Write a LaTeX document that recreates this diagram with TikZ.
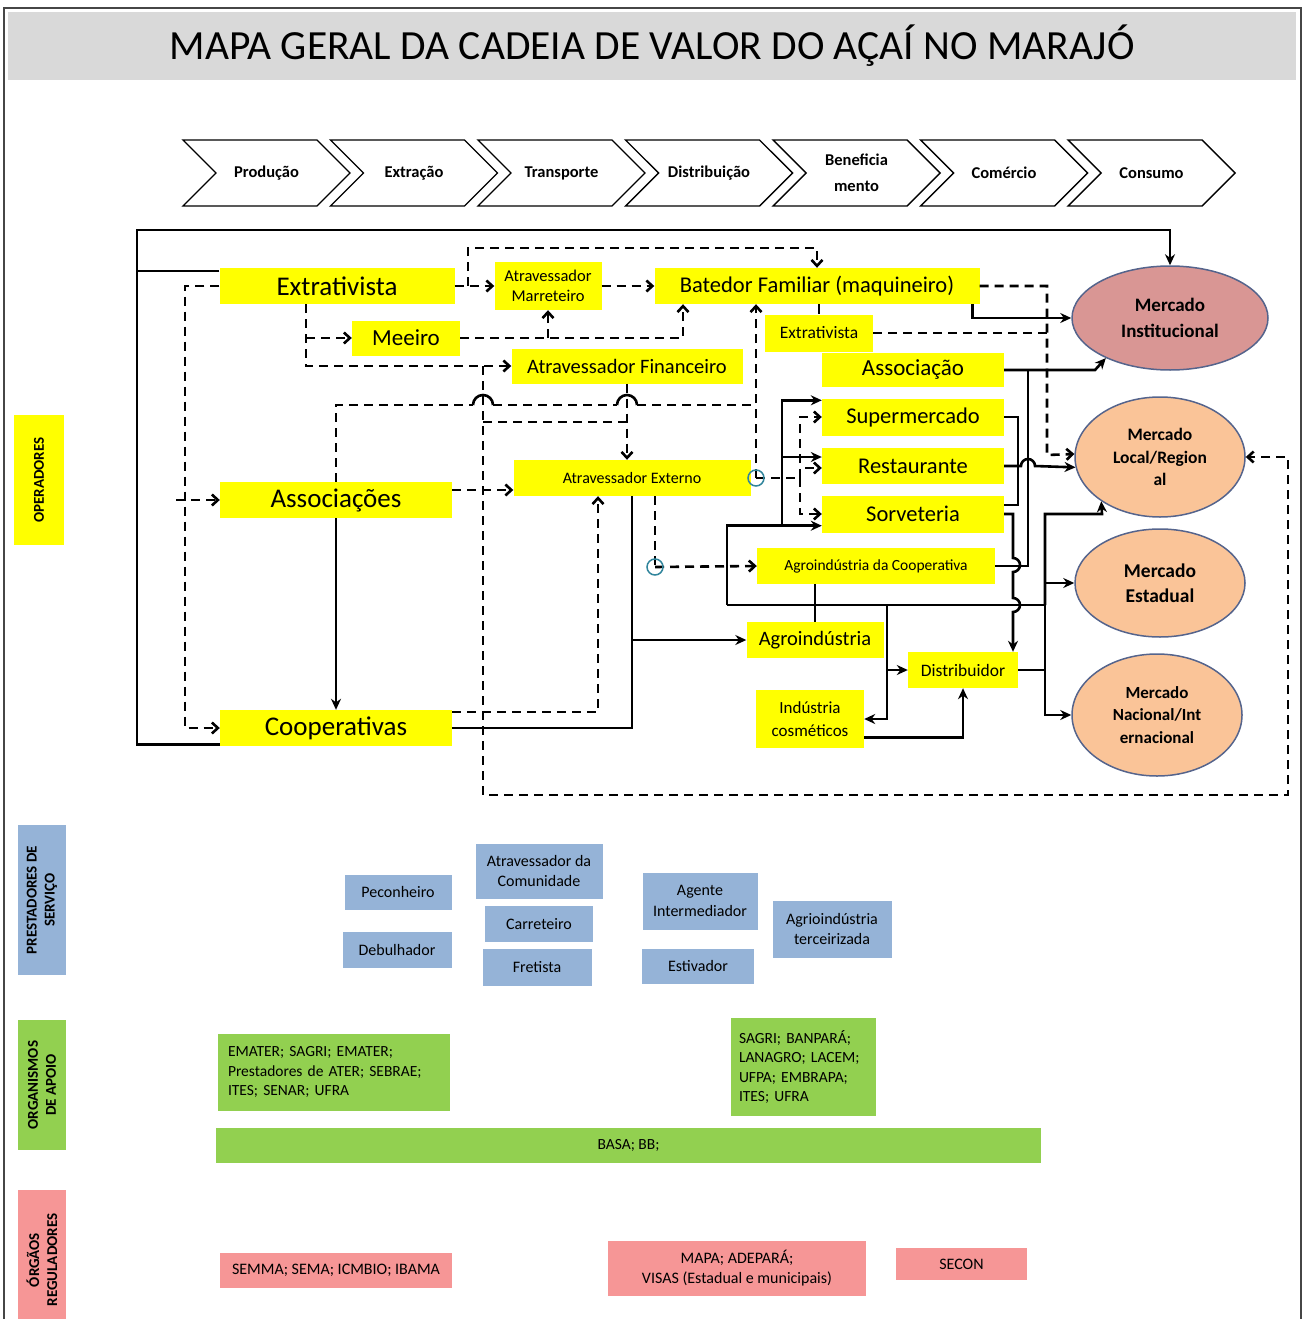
\documentclass[tikz,border=0pt]{standalone}
\usepackage{fontspec}
\setmainfont{Carlito}
\usetikzlibrary{arrows.meta, shapes.geometric, shapes.symbols}
\frenchspacing

\definecolor{opyellow}{RGB}{255,255,0}
\definecolor{srvblue}{RGB}{149,179,215}
\definecolor{apgreen}{RGB}{146,208,80}
\definecolor{regpink}{RGB}{246,150,150}
\definecolor{instrose}{RGB}{217,150,148}
\definecolor{mktpeach}{RGB}{250,196,152}
\definecolor{ringblue}{RGB}{85,100,140}
\definecolor{titlegray}{RGB}{217,217,217}
\definecolor{framegray}{RGB}{70,70,70}
\definecolor{linkteal}{RGB}{49,133,156}

\newcommand{\fsz}[2]{\fontsize{#1pt}{#2pt}\selectfont}

\begin{document}
\begin{tikzpicture}[x=1pt, y=-1pt]
    \useasboundingbox (0,0) rectangle (1306,1319);

    \tikzstyle{stage} = [signal, signal to=east, signal from=west, draw, line width=1.4pt,
                         minimum width=167pt, minimum height=66pt, inner sep=0, align=center,
                         font=\fsz{16.5}{26}\bfseries];
    \tikzstyle{side label} = [rotate=90, inner sep=0, align=center, font=\fsz{15}{18}\bfseries];
    \tikzstyle{op box} = [fill=opyellow, inner sep=0, align=center];
    \tikzstyle{srv box} = [fill=srvblue, inner sep=0, align=center, font=\fsz{16}{20.5}];
    \tikzstyle{ap box} = [fill=apgreen, inner sep=0, font=\fsz{15.5}{19.5}];
    \tikzstyle{reg box} = [fill=regpink, inner sep=0, align=center, font=\fsz{16}{20}];
    \tikzstyle{market} = [ellipse, draw=ringblue, line width=1.5pt, fill=mktpeach, inner sep=0,
                          align=center, font=\bfseries];
    \tikzstyle{solid line} = [line width=2.6pt, black];
    \tikzstyle{solid arrow} = [solid line, -{Stealth[length=11pt, width=10pt]}];
    \tikzstyle{dash line} = [line width=2.6pt, dash pattern=on 9pt off 6pt];
    \tikzstyle{dash arrow} = [dash line, -{Straight Barb[length=6pt, width=11pt]}];

    % Frame and title
    \draw[framegray, line width=2pt] (4,8) rectangle (1301,1330);
    \node[fill=titlegray, minimum width=1288pt, minimum height=68pt, inner sep=0] (title) at (652,46)
        {\fsz{41.5}{44}MAPA GERAL DA CADEIA DE VALOR DO AÇAÍ NO MARAJÓ};

    % Stages
    \node[stage] (prod) at (266.5,173) {Produção};
    \node[stage] (extr) at (414,173) {Extração};
    \node[stage] (transp) at (561.5,173) {Transporte};
    \node[stage] (distr) at (709,173) {Distribuição};
    \node[stage] (benef) at (856.5,173) {Beneficia\\mento};
    \node[stage] (comer) at (1004,173) {Comércio};
    \node[stage] (cons) at (1151.5,173) {Consumo};

    % Side labels
    \node[side label, fill=opyellow, minimum width=130pt, minimum height=50pt] (sideop) at (39,480) {OPERADORES};
    \node[side label, fill=srvblue, minimum width=150pt, minimum height=48pt] (sidesrv) at (42,900) {PRESTADORES DE\\SERVIÇO};
    \node[side label, fill=apgreen, minimum width=130pt, minimum height=48pt] (sideap) at (42,1085) {ORGANISMOS\\DE APOIO};
    \node[side label, fill=regpink, minimum width=140pt, minimum height=48pt] (sidereg) at (42,1260) {ÓRGÃOS\\REGULADORES};

    % Operadores
    \node[op box, minimum width=235pt, minimum height=36pt, font=\fsz{27}{30}] (ext) at (337,286) {Extrativista};
    \node[op box, minimum width=107pt, minimum height=48pt, font=\fsz{16.5}{20}] (marr) at (548,286) {Atravessador\\Marreteiro};
    \node[op box, minimum width=325pt, minimum height=36pt, font=\fsz{22.5}{26}] (bat) at (817,286) {Batedor Familiar (maquineiro)};
    \node[op box, minimum width=108pt, minimum height=35pt, font=\fsz{23}{26}] (mee) at (406,338) {Meeiro};
    \node[op box, minimum width=231pt, minimum height=35pt, font=\fsz{20.5}{24}] (fin) at (627,366) {Atravessador Financeiro};
    \node[op box, minimum width=108pt, minimum height=37pt, font=\fsz{17.5}{20}] (ext2) at (819,333) {Extrativista};
    \node[op box, minimum width=182pt, minimum height=34pt, font=\fsz{23}{26}] (assoc) at (913,370) {Associação};
    \node[op box, minimum width=182pt, minimum height=37pt, font=\fsz{22.5}{26}] (sup) at (913,417) {Supermercado};
    \node[op box, minimum width=182pt, minimum height=36pt, font=\fsz{22.5}{26}] (rest) at (913,466) {Restaurante};
    \node[op box, minimum width=182pt, minimum height=37pt, font=\fsz{22.5}{26}] (sorv) at (913,514) {Sorveteria};
    \node[op box, minimum width=237pt, minimum height=36pt, font=\fsz{16}{20}] (atex) at (632,478) {Atravessador Externo};
    \node[op box, minimum width=232pt, minimum height=36pt, font=\fsz{27}{30}] (assocs) at (336,500) {Associações};
    \node[op box, minimum width=238pt, minimum height=36pt, font=\fsz{15.5}{20}] (agcoop) at (876,566) {Agroindústria da Cooperativa};
    \node[op box, minimum width=137pt, minimum height=36pt, font=\fsz{20.5}{24}] (agro) at (815,640) {Agroindústria};
    \node[op box, minimum width=110pt, minimum height=36pt, font=\fsz{17.5}{20}] (dist) at (963,670) {Distribuidor};
    \node[op box, minimum width=108pt, minimum height=58pt, font=\fsz{17}{23}] (cosm) at (810,719) {Indústria\\cosméticos};
    \node[op box, minimum width=232pt, minimum height=36pt, font=\fsz{27}{30}] (coop) at (336,728) {Cooperativas};

    % Mercados
    \node[market, fill=instrose, minimum width=196pt, minimum height=104pt, font=\fsz{19}{26}\bfseries] (mi) at (1170,318) {Mercado\\Institucional};
    \node[market, minimum width=170pt, minimum height=120pt, font=\fsz{17.5}{22.5}\bfseries] (loc) at (1160,457) {Mercado\\Local/Region\\al};
    \node[market, minimum width=170pt, minimum height=108pt, font=\fsz{19.5}{25}\bfseries] (est) at (1160,583) {Mercado\\Estadual};
    \node[market, minimum width=170pt, minimum height=122pt, font=\fsz{17}{22.5}\bfseries] (nac) at (1157,715) {Mercado\\Nacional/Int\\ernacional};

    % Prestadores de servico
    \node[srv box, minimum width=107pt, minimum height=35pt] (pec) at (398,892) {Peconheiro};
    \node[srv box, minimum width=109pt, minimum height=36pt] (deb) at (397,950) {Debulhador};
    \node[srv box, minimum width=127pt, minimum height=55pt] (atcom) at (539,871) {Atravessador da\\Comunidade};
    \node[srv box, minimum width=108pt, minimum height=36pt] (carr) at (539,924) {Carreteiro};
    \node[srv box, minimum width=109pt, minimum height=37pt] (fret) at (537,967) {Fretista};
    \node[srv box, minimum width=115pt, minimum height=57pt] (agint) at (700,901) {Agente\\Intermediador};
    \node[srv box, minimum width=112pt, minimum height=35pt] (estv) at (698,966) {Estivador};
    \node[srv box, minimum width=119pt, minimum height=57pt] (agter) at (832,929) {Agrioindústria\\terceirizada};

    % Organismos de apoio
    \node[ap box, minimum width=232pt, minimum height=77pt, inner xsep=10pt, text width=212pt, align=left] (apoio1) at (334,1072)
        {EMATER; SAGRI; EMATER;\\Prestadores de ATER; SEBRAE;\\ITES; SENAR; UFRA};
    \node[ap box, minimum width=145pt, minimum height=98pt, inner xsep=8pt, text width=129pt, align=left] (apoio2) at (803.5,1067)
        {SAGRI; BANPARÁ;\\LANAGRO; LACEM;\\UFPA; EMBRAPA;\\ITES; UFRA};
    \node[ap box, minimum width=825pt, minimum height=35pt, align=center] (basa) at (628.5,1145) {BASA; BB;};

    % Orgaos reguladores
    \node[reg box, minimum width=232pt, minimum height=35pt] (reg1) at (336,1270) {SEMMA; SEMA; ICMBIO; IBAMA};
    \node[reg box, minimum width=258pt, minimum height=55pt] (reg2) at (737,1268) {MAPA; ADEPARÁ;\\VISAS (Estadual e municipais)};
    \node[reg box, minimum width=131pt, minimum height=32pt] (reg3) at (961.5,1264) {SECON};

    % Junctions
    \coordinate (loopTop) at (137,230);
    \coordinate (dashL) at (185,286);
    \coordinate (extDrop) at (306,304);
    \coordinate (topHop) at (468,286);
    \coordinate (topHopUp) at (468,248);
    \coordinate (finDrop) at (483,366);
    \coordinate (loopBL) at (483,795);
    \coordinate (loopBR) at (1288,795);
    \coordinate (hub) at (727,605);
    \coordinate (hubMid) at (887,605);
    \coordinate (hubR) at (1045,605);
    \coordinate (fork) at (782,525);
    \coordinate (mergeS) at (1018,505);
    \coordinate (locFoot) at (1102,514);
    \coordinate (batDrop) at (1047,455);
    \coordinate (c1) at (756,478);
    \coordinate (c2) at (655,567);
    \coordinate (dfork) at (800,478);

    % Solid flows
    \draw[solid arrow] ([yshift=2pt]coop.south west) -| (loopTop) -| (mi.north);
    \draw[solid line] ([yshift=-3pt]ext.north west) -| (loopTop);
    \draw[solid arrow] (assocs.south) -- (coop.north);
    \draw[solid line] (coop.east) -| (atex.south);
    \draw[solid arrow] (atex.south |- agro.west) -- (agro.west);
    \draw[solid line] (agro.north) -- (agro.north |- agcoop.south);
    \draw[solid line] (hub) -- (hubR);
    \draw[solid arrow] (hub) |- ([yshift=7pt]sorv.south west);
    \draw[solid arrow] (fork) |- ([yshift=-2pt]sup.north west);
    \draw[solid arrow] ([yshift=9pt]rest.west -| fork) -- ([yshift=9pt]rest.west);
    \draw[solid arrow] (hubMid) |- (cosm.east);
    \draw[solid arrow] (dist.west -| hubMid) -- (dist.west);
    \draw[solid arrow] ([yshift=11pt]cosm.south east) -| (dist.south);
    \draw[solid line] (dist.east) -- (dist.east -| hubR);
    \draw[solid arrow] (hubR) |- (nac.west);
    \draw[solid arrow] (hubR) |- (est.west);
    \draw[solid arrow] (hubR) |- (locFoot) -- (loc.217);
    \draw[solid line] (sup.east) -| (mergeS) -- (mergeS -| sorv.east);
    \draw[solid arrow] (rest.east) -- (1021,466)
        arc[start angle=180, end angle=0, radius=7pt] -- (loc.187);
    \draw[solid arrow] (sorv.east) -- (1013,514) -- (1013,558)
        arc[start angle=90, end angle=-90, radius=7pt] -- (1013,598)
        arc[start angle=90, end angle=-90, radius=7pt] -- ([xshift=50pt]dist.north);
    \draw[solid arrow] (assoc.east) -- (1095,370) -- (mi.212);
    \draw[solid line] (agcoop.east) -| (1028,370);
    \draw[solid arrow] ([xshift=-7pt]bat.south east) |- (mi.west);
    \draw[solid line] (bat.south -| ext2.north) -- (ext2.north);

    % Dashed flows
    \draw[dash arrow] (ext.west) -- (dashL) |- (coop.west);
    \draw[dash arrow] ([xshift=-9pt]dashL |- assocs.west) -- (assocs.west);
    \draw[dash arrow] (ext.east) -- (marr.west);
    \draw[dash arrow] (topHop) -- (topHopUp) -| (bat.north);
    \draw[dash arrow] (marr.east) -- (bat.west);
    \draw[dash arrow] (extDrop) |- (fin.west);
    \draw[dash arrow] (extDrop |- mee.west) -- (mee.west);
    \draw[dash arrow] (mee.east) -| ([xshift=-134pt]bat.south);
    \draw[dash arrow] (marr.south |- mee.east) -- (marr.south);
    \draw[dash line] (assocs.north) |- (473,405) (493,405) -- (617,405) (637,405) -- (c1 |- 0,405);
    \draw[solid line] (473,405) arc[start angle=180, end angle=0, radius=10pt];
    \draw[solid line] (617,405) arc[start angle=180, end angle=0, radius=10pt];
    \draw[dash arrow] (c1) -- (c1 |- bat.south);
    \draw[dash line] (c1) -- (dfork);
    \draw[dash arrow] (dfork) |- (sup.west);
    \draw[dash arrow] (dfork) |- ([yshift=-2pt]rest.west);
    \draw[dash arrow] (dfork) |- (sorv.west);
    \draw[dash arrow] (fin.south) -- (fin.south |- atex.north);
    \draw[dash line] (finDrop |- 0,422) -- (fin.south |- 0,422);
    \draw[dash arrow] (finDrop) -- (loopBL) -- (loopBR) |- (loc.east);
    \draw[dash arrow] ([yshift=10pt]assocs.east) -- ([yshift=-12pt]atex.west);
    \draw[dash arrow] ([yshift=16pt]coop.east) -| ([xshift=-34pt]atex.south);
    \draw[dash line] ([xshift=23pt]atex.south) -- (c2);
    \draw[dash arrow] (c2) -- (agcoop.west);
    \draw[dash arrow] (bat.east) -| (batDrop) -- (loc.178);
    \draw[dash line] (ext2.east) -- (ext2.east -| batDrop);

    % Connection marks
    \draw[linkteal, line width=1.5pt] (c1) circle[radius=8pt];
    \draw[linkteal, line width=1.5pt] (c2) circle[radius=8pt];
\end{tikzpicture}
\end{document}
